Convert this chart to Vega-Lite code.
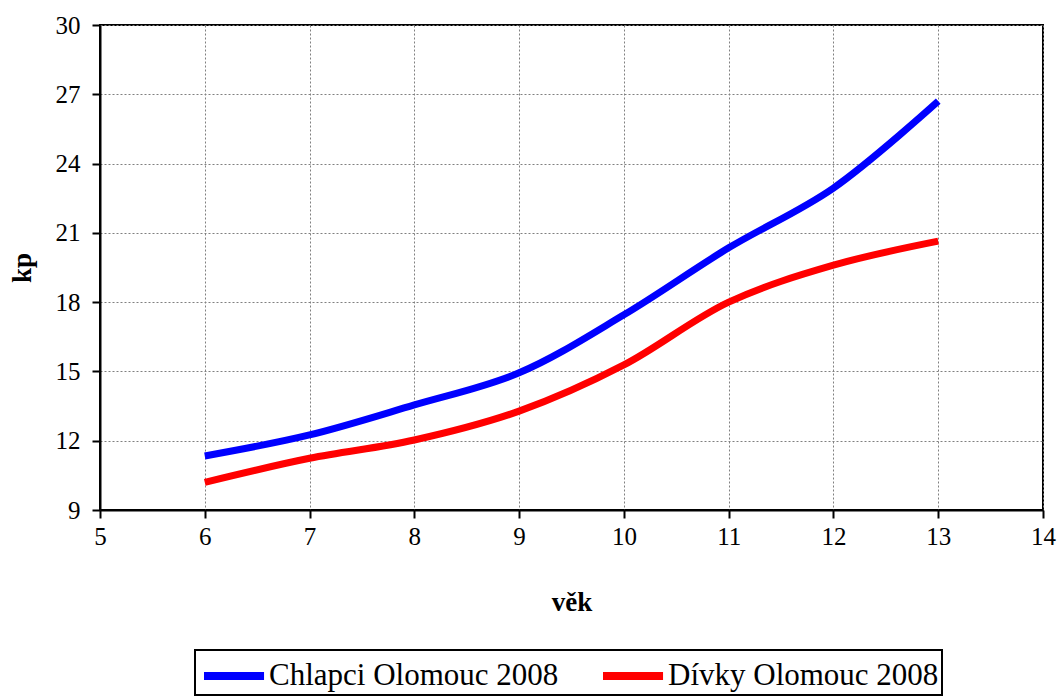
{
  "$schema": "https://vega.github.io/schema/vega-lite/v6.json",
  "width": 943,
  "height": 485,
  "autosize": {"type": "none"},
  "padding": {"left": 100, "top": 25, "right": 16, "bottom": 187},
  "background": "white",
  "config": {
    "font": "Liberation Serif",
    "view": {"stroke": "black", "strokeWidth": 2},
    "axis": {
      "labelFont": "Liberation Serif",
      "titleFont": "Liberation Serif",
      "labelColor": "black",
      "titleColor": "black",
      "domainColor": "black",
      "domainWidth": 2,
      "tickColor": "black",
      "tickWidth": 2,
      "tickSize": 8,
      "labelFlush": false,
      "gridColor": "#808080",
      "gridDash": [2, 2],
      "gridWidth": 1
    },
    "legend": {
      "labelFont": "Liberation Serif"
    }
  },
  "data": {
    "values": [
      {"vek": 6, "kp": 11.34, "serie": "Chlapci Olomouc 2008"},
      {"vek": 7, "kp": 12.25, "serie": "Chlapci Olomouc 2008"},
      {"vek": 8, "kp": 13.55, "serie": "Chlapci Olomouc 2008"},
      {"vek": 9, "kp": 14.94, "serie": "Chlapci Olomouc 2008"},
      {"vek": 10, "kp": 17.45, "serie": "Chlapci Olomouc 2008"},
      {"vek": 11, "kp": 20.35, "serie": "Chlapci Olomouc 2008"},
      {"vek": 12, "kp": 22.94, "serie": "Chlapci Olomouc 2008"},
      {"vek": 13, "kp": 26.7, "serie": "Chlapci Olomouc 2008"},
      {"vek": 6, "kp": 10.2, "serie": "Dívky Olomouc 2008"},
      {"vek": 7, "kp": 11.24, "serie": "Dívky Olomouc 2008"},
      {"vek": 8, "kp": 12.03, "serie": "Dívky Olomouc 2008"},
      {"vek": 9, "kp": 13.28, "serie": "Dívky Olomouc 2008"},
      {"vek": 10, "kp": 15.28, "serie": "Dívky Olomouc 2008"},
      {"vek": 11, "kp": 18.0, "serie": "Dívky Olomouc 2008"},
      {"vek": 12, "kp": 19.6, "serie": "Dívky Olomouc 2008"},
      {"vek": 13, "kp": 20.64, "serie": "Dívky Olomouc 2008"}
    ]
  },
  "mark": {"type": "line", "strokeWidth": 7, "interpolate": "catmull-rom", "strokeCap": "butt"},
  "encoding": {
    "x": {
      "field": "vek",
      "type": "quantitative",
      "scale": {"domain": [5, 14], "nice": false, "zero": false},
      "axis": {
        "title": "věk",
        "values": [5, 6, 7, 8, 9, 10, 11, 12, 13, 14],
        "labelFontSize": 25,
        "labelPadding": 6,
        "titleFontSize": 27,
        "titleFontWeight": "bold",
        "titlePadding": 40
      }
    },
    "y": {
      "field": "kp",
      "type": "quantitative",
      "scale": {"domain": [9, 30], "nice": false, "zero": false},
      "axis": {
        "title": "kp",
        "values": [9, 12, 15, 18, 21, 24, 27, 30],
        "labelFontSize": 25,
        "labelPadding": 12,
        "titleFontSize": 27,
        "titleFontWeight": "bold",
        "titlePadding": 19
      }
    },
    "color": {
      "field": "serie",
      "type": "nominal",
      "scale": {"domain": ["Chlapci Olomouc 2008", "Dívky Olomouc 2008"], "range": ["#0000FF", "#FF0000"]},
      "legend": {
        "title": null,
        "orient": "none",
        "legendX": 95,
        "legendY": 625,
        "direction": "horizontal",
        "strokeColor": "black",
        "padding": 3,
        "symbolType": "M-1,0H2.16",
        "symbolSize": 1444,
        "symbolStrokeWidth": 8,
        "labelFontSize": 31,
        "labelColor": "black",
        "labelLimit": 400,
        "labelOffset": 23,
        "columnPadding": 28,
        "symbolOffset": 2,
        "encode": {"legend": {"update": {"strokeWidth": {"value": 2}}}}
      }
    }
  }
}
